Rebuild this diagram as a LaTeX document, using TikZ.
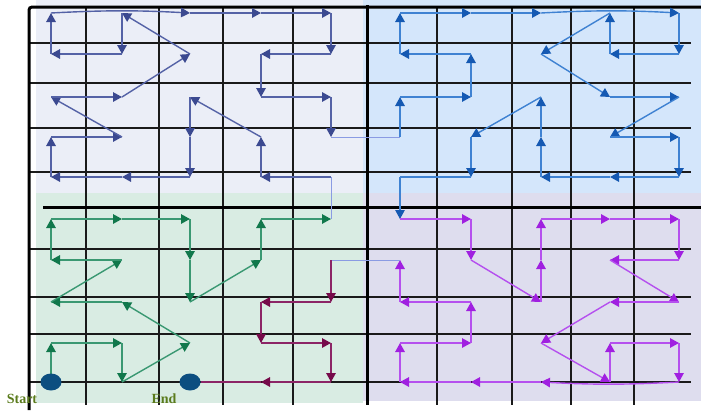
\documentclass[tikz,border=0pt]{standalone}
\usepackage{fontspec}
\newfontfamily\lblfont{Liberation Serif}
\usetikzlibrary{arrows.meta,shapes.geometric}
\definecolor{bgTL}{HTML}{EBEEF7}
\definecolor{bgTR}{HTML}{D4E6FB}
\definecolor{bgBL}{HTML}{D9ECE3}
\definecolor{bgBR}{HTML}{DEDDEE}
\definecolor{lnN}{HTML}{5462A6}\definecolor{tpN}{HTML}{3B4990}
\definecolor{lnB}{HTML}{3F82D2}\definecolor{tpB}{HTML}{1559B2}
\definecolor{lnG}{HTML}{3A9872}\definecolor{tpG}{HTML}{11784C}
\definecolor{lnP}{HTML}{B550EE}\definecolor{tpP}{HTML}{A020E0}
\definecolor{lnM}{HTML}{8C2566}\definecolor{tpM}{HTML}{760A4A}
\definecolor{lnL}{HTML}{8A9BE3}
\definecolor{dotc}{HTML}{0C4E80}
\definecolor{lblc}{HTML}{5A7B1C}
\definecolor{gridc}{HTML}{1A1A1A}
\newcommand\chain[3]{%
  \foreach \q [remember=\q as \pp (initially #2)] in {#3} {\draw[#1] (p\pp) -- (p\q);}}
\begin{document}
\begin{tikzpicture}[x=1pt,y=-1pt,
  gridthin/.style={draw=gridc,line width=1.2pt},
  gridthick/.style={draw=black,line width=3pt},
  navline/.style={draw=lnN,line width=1.4pt},
  bluline/.style={draw=lnB,line width=1.4pt},
  grnline/.style={draw=lnG,line width=1.4pt},
  purline/.style={draw=lnP,line width=1.4pt},
  marline/.style={draw=lnM,line width=1.4pt},
  tipa/.style={-{Triangle[length=9pt,width=9.5pt,color=#1]}},
  nav/.style={navline,tipa=tpN},
  blu/.style={bluline,tipa=tpB},
  grn/.style={grnline,tipa=tpG},
  pur/.style={purline,tipa=tpP},
  mar/.style={marline,tipa=tpM},
  link/.style={draw=lnL,line width=1pt},
  dot/.style={fill=dotc,draw=none,ellipse,minimum width=21pt,minimum height=17pt,inner sep=0pt},
  lbl/.style={text=lblc,font=\lblfont\fontsize{14}{14}\selectfont\bfseries,inner sep=0pt}]
\useasboundingbox (0,0) rectangle (701,410);
% backgrounds
\fill[bgTL] (36,0) rectangle (363,193);
\fill[bgTR] (363,0) rectangle (701,193);
\fill[bgBL] (36,193) rectangle (363,403);
\fill[bgBR] (363,193) rectangle (701,401);
% grid
\foreach \x in {86,159,223,293,437,512,571,634} \draw[gridthin] (\x,7) -- (\x,405);
\foreach \y in {43,83,128,172,249,297,334,382} \draw[gridthin] (29,\y) -- (691,\y);
\draw[gridthick,rounded corners=3pt] (29,410) -- (29,7) -- (701,7);
\draw[gridthick] (367,5) -- (367,405);
\draw[gridthick] (43,207) -- (701,207);
% points
\foreach \c/\x in {0/51,1/122,2/190,3/261,4/331,5/400,6/471,7/541,8/610,9/679}
  \foreach \r/\y in {0/13,1/54,2/97,3/137,4/177,5/219,6/260,7/302,8/343,9/382}
    \coordinate (p\c\r) at (\x,\y);
% green
\chain{grn}{09}{08,18,19,28,17,07,16,06,05,15,25,26,27,36,35,45}
\draw[link] (p45) -- (p44);
% navy
\chain{nav}{44}{34,33,22,23,24,14,04,03,13,02,12,21,10,11,01,00}
\draw[nav] (p00) to[bend left=3] (p20);
\chain{nav}{20}{30,40,41,31,32,42,43}
\draw[link] (p43) -- (p53);
% blue
\chain{blu}{53}{52,62,61,51,50,60,70}
\draw[blu] (p70) to[bend left=3] (p90);
\chain{blu}{90}{91,81,80,71,82,92,83,93,94,84,74,73,72,63,64}
\draw[bluline,line width=1.1pt] (p64) -- (p54);
\draw[blu,line width=1.1pt] (p54) -- (p55);
% purple
\chain{pur}{55}{65,66,77,76,75,85,95,96,86,97,87,78,89,88,98,99}
\draw[pur] (p99) to[bend left=3] (p79);
\chain{pur}{79}{69,59,58,68,67,57,56}
\draw[link] (p56) -- (p46);
% maroon
\chain{mar}{46}{47,37,38,48,49,39}
\node[dot] (startc) at (p09) {};
\node[dot] (endc) at (p29) {};
\draw[marline] (p39) -- (endc.east);
% labels
\node[lbl] (startlbl) at (22,399) {Start};
\node[lbl] (endlbl) at (164,399) {End};
\end{tikzpicture}
\end{document}
